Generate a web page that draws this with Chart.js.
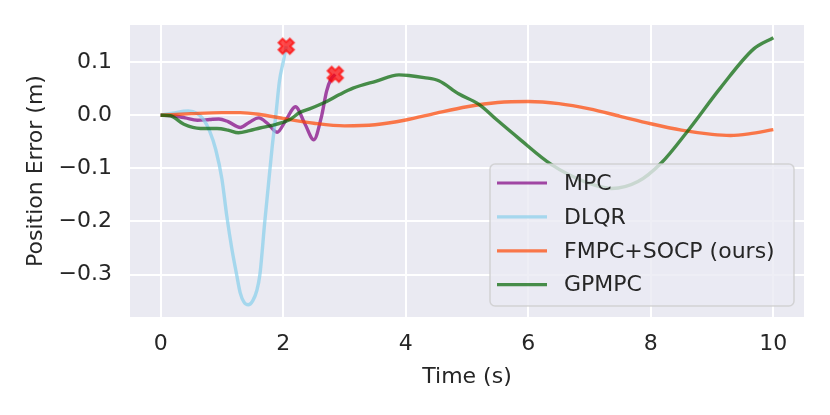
<!DOCTYPE html>
<html>
<head>
<meta charset="utf-8">
<script src="https://cdn.jsdelivr.net/npm/chart.js@4/dist/chart.umd.min.js"></script>
<style>
  body { margin: 0; background: #ffffff; }
  canvas { display: block; }
</style>
</head>
<body>
<canvas id="myChart" width="830" height="415"></canvas>
<script>
"use strict";

// data
const labels = ["MPC", "DLQR", "FMPC+SOCP (ours)", "GPMPC"];

const mpcTime = [0, 0.2, 0.4, 0.6, 0.8, 0.95, 1.1, 1.3, 1.45, 1.6, 1.75, 1.9, 2.05, 2.2, 2.35, 2.5, 2.62, 2.71, 2.78, 2.85];
const mpcError = [0, -0.001, -0.005, -0.0095, -0.008, -0.007, -0.012, -0.023, -0.013, -0.005, -0.016, -0.032, -0.008, 0.016, -0.015, -0.046, -0.005, 0.046, 0.068, 0.077];

const dlqrTime = [0, 0.2, 0.45, 0.6, 0.7, 0.8, 0.9, 1.0, 1.08, 1.16, 1.24, 1.3, 1.36, 1.43, 1.5, 1.57, 1.62, 1.7, 1.76, 1.82, 1.88, 1.94, 2.0, 2.05];
const dlqrError = [0, 0.004, 0.008, 0.003, -0.008, -0.03, -0.065, -0.12, -0.19, -0.25, -0.3, -0.335, -0.352, -0.357, -0.35, -0.33, -0.3, -0.2, -0.13, -0.06, 0.0, 0.065, 0.1, 0.13];

const fmpcTime = [0, 0.5, 1.0, 1.3, 1.6, 2.0, 2.5, 3.0, 3.5, 4.0, 4.5, 5.0, 5.5, 6.0, 6.5, 7.0, 7.5, 8.0, 8.5, 9.0, 9.3, 9.6, 10];
const fmpcError = [0, 0.003, 0.005, 0.005, 0.002, -0.006, -0.015, -0.02, -0.018, -0.009, 0.004, 0.016, 0.024, 0.026, 0.022, 0.012, -0.002, -0.016, -0.028, -0.036, -0.038, -0.035, -0.027];

const gpmpcTime = [0, 0.16, 0.38, 0.65, 0.92, 1.1, 1.27, 1.45, 1.62, 1.89, 2.11, 2.27, 2.43, 2.71, 2.92, 3.14, 3.51, 3.89, 4.05, 4.3, 4.54, 4.87, 5.19, 5.5, 5.84, 6.38, 6.92, 7.36, 7.79, 8.17, 8.6, 9.14, 9.68, 10];
const gpmpcError = [0, -0.001, -0.017, -0.025, -0.025, -0.028, -0.033, -0.029, -0.024, -0.017, -0.008, 0.005, 0.012, 0.026, 0.039, 0.051, 0.064, 0.076, 0.075, 0.071, 0.065, 0.04, 0.021, -0.01, -0.043, -0.093, -0.125, -0.138, -0.125, -0.09, -0.03, 0.052, 0.125, 0.146];

const xTicks = [0, 2, 4, 6, 8, 10];
const yTicks = [-0.3, -0.2, -0.1, 0.0, 0.1];

const colors = ["rgba(128, 0, 128, 0.7)", "rgba(135, 206, 235, 0.7)", "rgba(255, 69, 0, 0.7)", "rgba(0, 100, 0, 0.7)"];
const textColor = "#262626";
const fontFamily = "'DejaVu Sans', sans-serif";

function toPoints(times, values) {
  let points = [];
  for (let i = 0; i < times.length; i++) {
    points.push({ x: times[i], y: values[i] });
  }
  return points;
}

// the crash markers sit on the last sample of MPC and DLQR
function lastPoint(times, values) {
  return { x: times[times.length - 1], y: values[values.length - 1] };
}

// filled red X like matplotlib's "X" marker
function makeCrossMarker() {
  let c = document.createElement("canvas");
  c.width = 24;
  c.height = 24;
  let g = c.getContext("2d");
  let s = 16;
  let w = 0.18;
  let plus = [[-w, 0.5], [w, 0.5], [w, w], [0.5, w], [0.5, -w], [w, -w], [w, -0.5], [-w, -0.5], [-w, -w], [-0.5, -w], [-0.5, w], [-w, w]];
  let r = Math.SQRT1_2;
  g.beginPath();
  plus.forEach(function (p, i) {
    let x = 12 + s * (p[0] * r - p[1] * r);
    let y = 12 + s * (p[0] * r + p[1] * r);
    if (i === 0) g.moveTo(x, y);
    else g.lineTo(x, y);
  });
  g.closePath();
  g.fillStyle = "rgba(255, 0, 0, 0.7)";
  g.fill();
  g.lineWidth = 2;
  g.strokeStyle = "rgba(255, 0, 0, 0.7)";
  g.stroke();
  return c;
}

const plotBackground = {
  id: "plotBackground",
  beforeDraw(chart) {
    let area = chart.chartArea;
    let ctx = chart.ctx;
    ctx.save();
    ctx.fillStyle = "#EAEAF2";
    ctx.fillRect(area.left, area.top, area.right - area.left, area.bottom - area.top);
    ctx.restore();
  },
};

// legend box in the lower right corner of the axes
const insideLegend = {
  id: "insideLegend",
  afterDatasetsDraw(chart) {
    let area = chart.chartArea;
    let ctx = chart.ctx;
    let boxW = 304;
    let boxH = 142;
    let left = area.right - 10 - boxW;
    let top = area.bottom - 11 - boxH;

    ctx.save();
    ctx.beginPath();
    ctx.roundRect(left, top, boxW, boxH, 5);
    ctx.fillStyle = "rgba(234, 234, 242, 0.8)";
    ctx.fill();
    ctx.lineWidth = 1.5;
    ctx.strokeStyle = "rgba(204, 204, 204, 0.8)";
    ctx.stroke();

    ctx.font = "22px " + fontFamily;
    ctx.textBaseline = "middle";
    ctx.fillStyle = textColor;
    for (let i = 0; i < labels.length; i++) {
      let y = top + 19 + i * 33.9;
      ctx.beginPath();
      ctx.moveTo(left + 7, y);
      ctx.lineTo(left + 57, y);
      ctx.lineWidth = 3.2;
      ctx.strokeStyle = colors[i];
      ctx.stroke();
      ctx.fillText(labels[i], left + 74, y + 1);
    }
    ctx.restore();
  },
};

function lineDataset(i, times, values, order) {
  return {
    label: labels[i],
    data: toPoints(times, values),
    borderColor: colors[i],
    backgroundColor: colors[i],
    borderWidth: 3.4,
    pointRadius: 0,
    fill: false,
    cubicInterpolationMode: "monotone",
    order: order,
  };
}

const marker = makeCrossMarker();

const data = {
  datasets: [
    lineDataset(0, mpcTime, mpcError, 4),
    lineDataset(1, dlqrTime, dlqrError, 3),
    lineDataset(2, fmpcTime, fmpcError, 2),
    lineDataset(3, gpmpcTime, gpmpcError, 1),
    {
      label: "crash",
      data: [lastPoint(dlqrTime, dlqrError), lastPoint(mpcTime, mpcError)],
      showLine: false,
      pointStyle: marker,
      pointRadius: 9,
      order: 0,
    },
  ],
};

const config = {
  type: "line",
  data: data,
  plugins: [plotBackground, insideLegend],
  options: {
    responsive: false,
    animation: false,
    devicePixelRatio: 1,
    layout: { padding: { top: 25, right: 26, left: 0, bottom: 0 } },
    plugins: {
      legend: { display: false },
      tooltip: { enabled: false },
    },
    scales: {
      x: {
        type: "linear",
        min: -0.5,
        max: 10.5,
        afterBuildTicks: function (scale) {
          scale.ticks = xTicks.map(function (v) { return { value: v }; });
        },
        afterFit: function (scale) {
          scale.height = 98;
          scale.paddingLeft = 0;
          scale.paddingRight = 0;
        },
        grid: { color: "#ffffff", lineWidth: 2, drawTicks: false },
        border: { display: false },
        ticks: {
          padding: 14,
          color: textColor,
          font: { family: fontFamily, size: 22 },
          callback: function (v) { return String(v); },
        },
        title: {
          display: true,
          text: "Time (s)",
          color: textColor,
          font: { family: fontFamily, size: 22 },
          padding: { top: 0, bottom: 25 },
        },
      },
      y: {
        type: "linear",
        min: -0.38,
        max: 0.17,
        afterBuildTicks: function (scale) {
          scale.ticks = yTicks.map(function (v) { return { value: v }; });
        },
        afterFit: function (scale) {
          scale.width = 130;
          scale.paddingTop = 0;
          scale.paddingBottom = 0;
        },
        grid: { color: "#ffffff", lineWidth: 2, drawTicks: false },
        border: { display: false },
        ticks: {
          padding: 18,
          color: textColor,
          font: { family: fontFamily, size: 22 },
          callback: function (v) { return v.toFixed(1).replace("-", "\u2212"); },
        },
        title: {
          display: true,
          text: "Position Error (m)",
          color: textColor,
          font: { family: fontFamily, size: 22 },
          padding: { top: 23, bottom: 0 },
        },
      },
    },
  },
};

const canvasChart = document.getElementById("myChart");
new Chart(canvasChart, config);
</script>
</body>
</html>
